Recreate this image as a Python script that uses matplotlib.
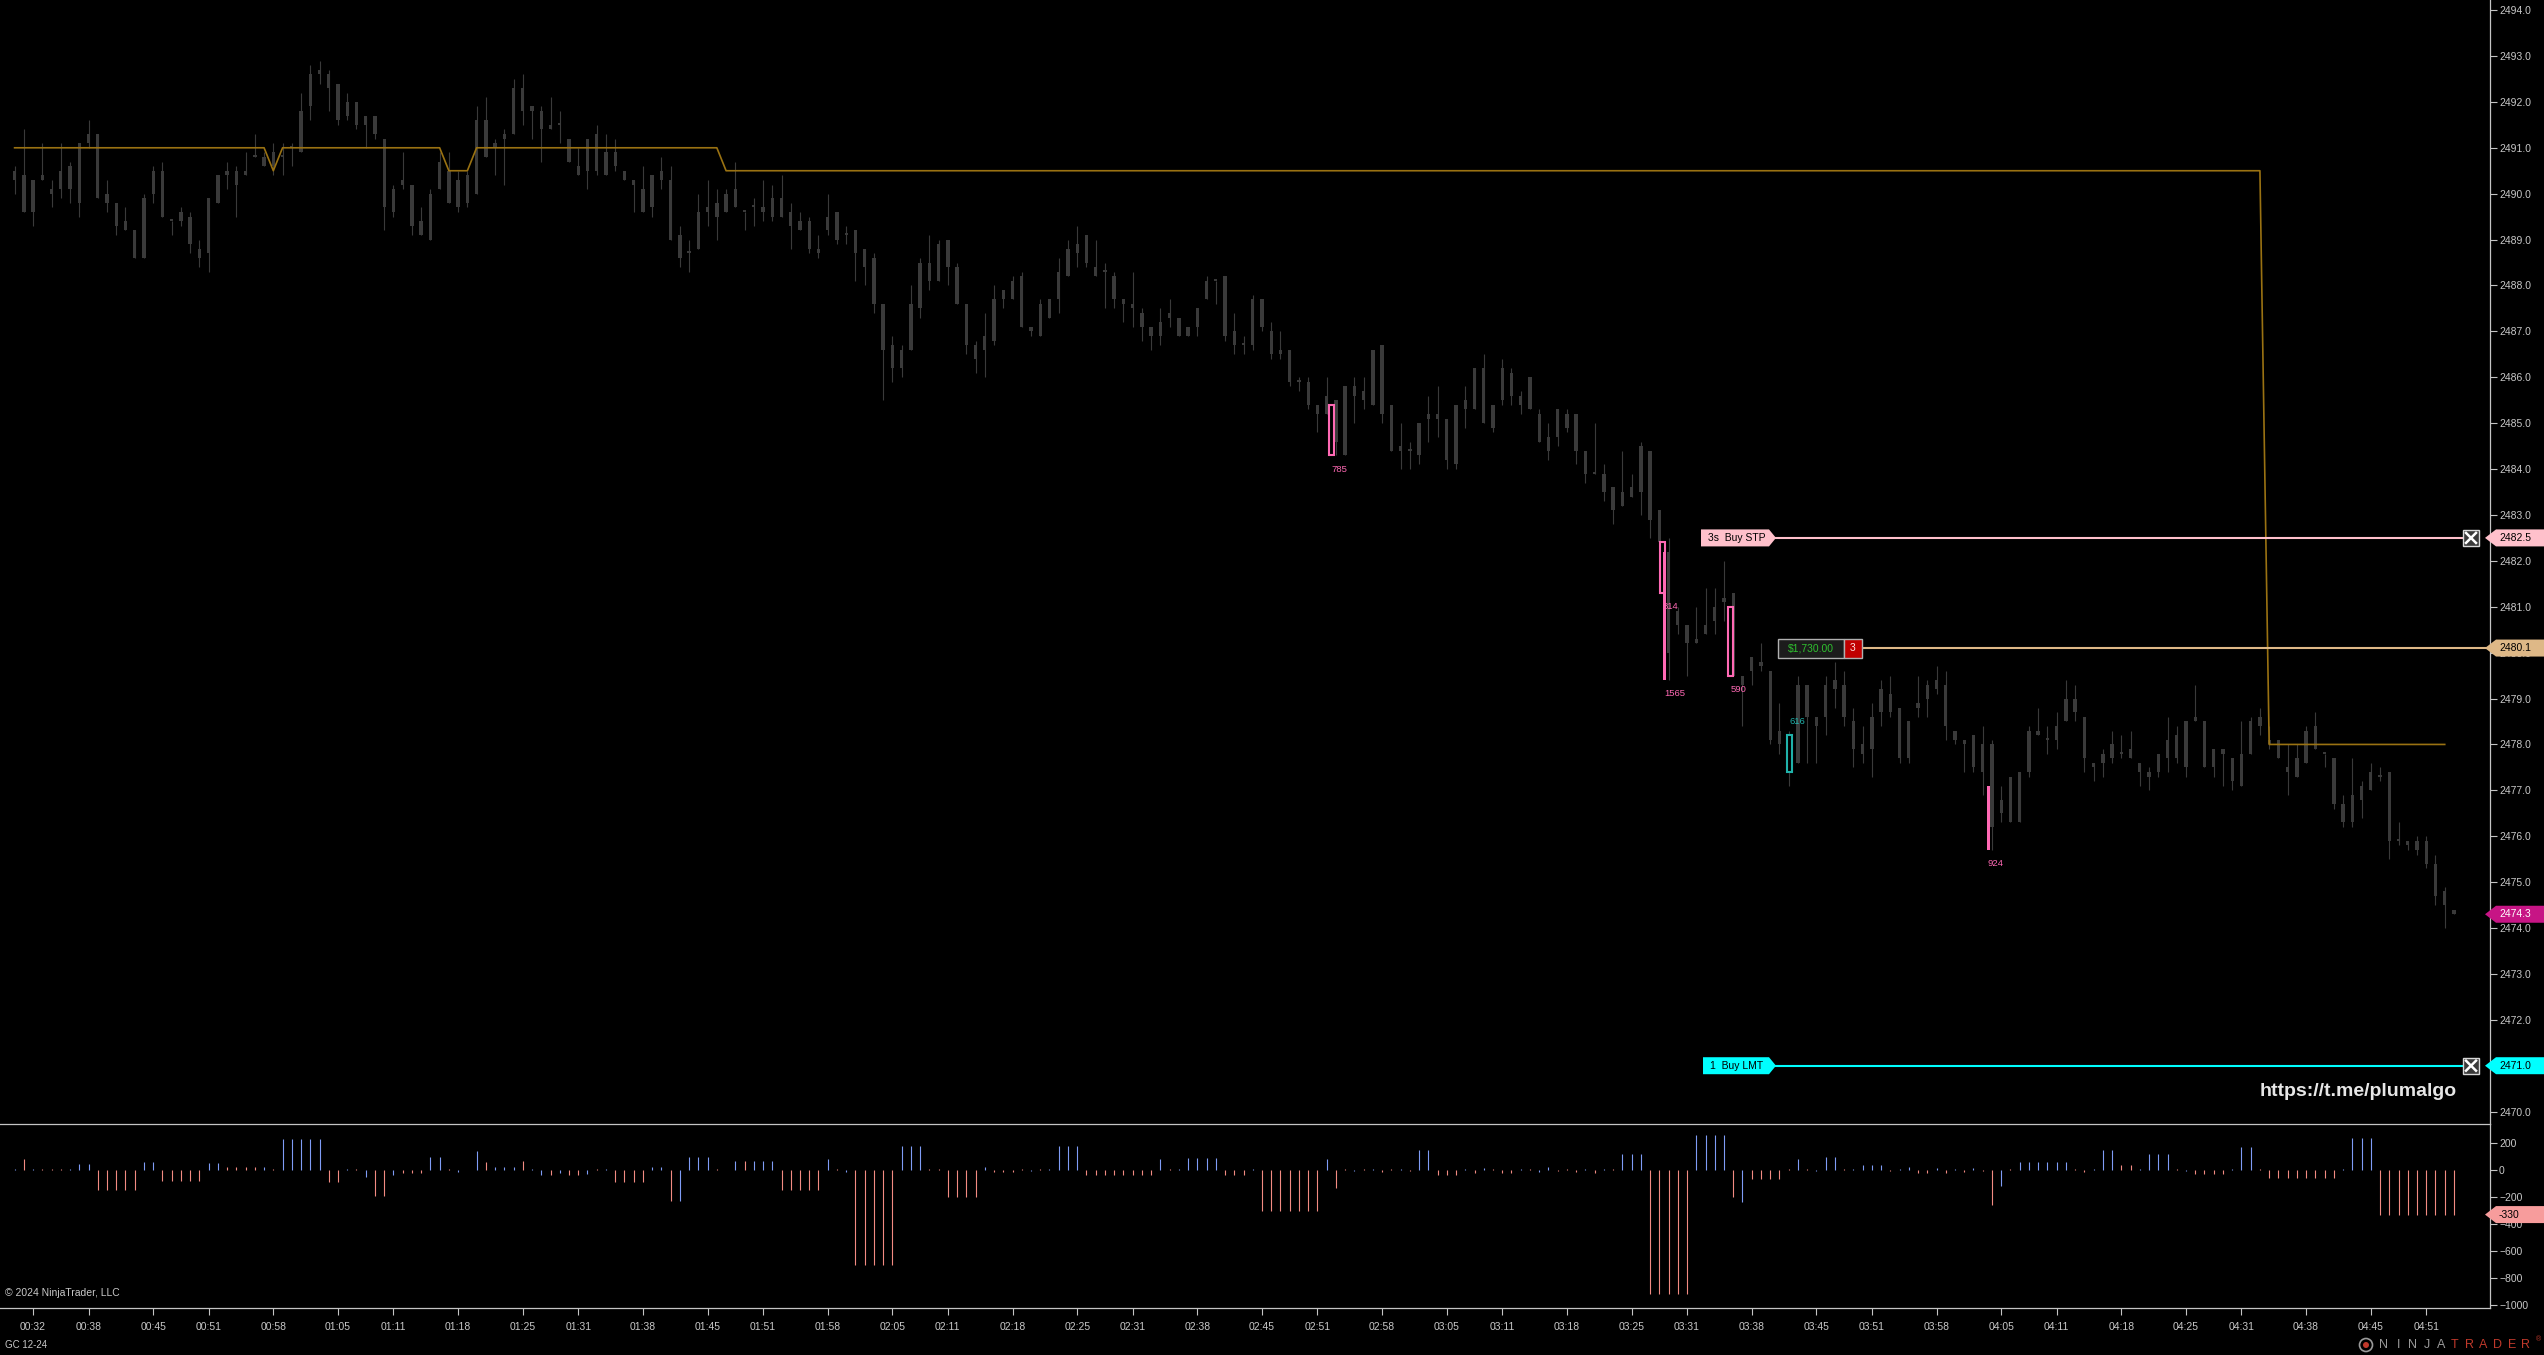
import matplotlib
matplotlib.use("Agg")
import matplotlib.pyplot as plt
import matplotlib.transforms as mtransforms
from matplotlib.patches import Polygon, Rectangle, Ellipse
from matplotlib.lines import Line2D
from matplotlib.ticker import FormatStrFormatter
import numpy as np

plt.rcParams['font.family'] = ['Liberation Sans', 'DejaVu Sans']

# GC 12-24, 1 minute bars, first bar at 00:30
first_bar = "00:30"
time_labels = ["00:32", "00:38", "00:45", "00:51", "00:58", "01:05", "01:11", "01:18",
               "01:25", "01:31", "01:38", "01:45", "01:51", "01:58", "02:05", "02:11",
               "02:18", "02:25", "02:31", "02:38", "02:45", "02:51", "02:58", "03:05",
               "03:11", "03:18", "03:25", "03:31", "03:38", "03:45", "03:51", "03:58",
               "04:05", "04:11", "04:18", "04:25", "04:31", "04:38", "04:45", "04:51"]

highs = [
    2490.6, 2491.4, 2490.3, 2491.1, 2490.3, 2491.1, 2490.7, 2491.1, 2491.6, 2491.3,
    2490.3, 2489.8, 2489.7, 2489.2, 2490.0, 2490.6, 2490.7, 2489.4, 2489.7, 2489.6,
    2489.0, 2489.9, 2490.4, 2490.7, 2490.6, 2490.9, 2491.3, 2490.9, 2491.1, 2491.1,
    2491.1, 2492.2, 2492.8, 2492.9, 2492.7, 2492.4, 2492.2, 2492.0, 2491.7, 2491.7,
    2491.2, 2490.2, 2490.9, 2490.2, 2489.7, 2490.1, 2490.9, 2490.9, 2490.5, 2490.5,
    2491.9, 2492.1, 2491.2, 2491.4, 2492.5, 2492.6, 2491.9, 2491.9, 2492.1, 2491.8,
    2491.2, 2491.0, 2491.2, 2491.5, 2491.3, 2491.2, 2490.5, 2490.3, 2490.6, 2490.4,
    2490.8, 2490.6, 2489.3, 2489.0, 2490.0, 2490.3, 2490.1, 2490.1, 2490.7, 2489.6,
    2489.9, 2490.3, 2490.2, 2490.4, 2489.8, 2489.6, 2489.5, 2489.1, 2490.0, 2489.6,
    2489.3, 2489.2, 2488.8, 2488.7, 2487.6, 2486.9, 2486.7, 2488.0, 2488.6, 2489.1,
    2489.0, 2489.0, 2488.5, 2487.6, 2486.8, 2487.4, 2488.0, 2487.9, 2488.2, 2488.3,
    2487.1, 2487.7, 2487.7, 2488.6, 2489.0, 2489.3, 2489.1, 2489.0, 2488.5, 2488.3,
    2487.7, 2488.3, 2487.5, 2487.1, 2487.5, 2487.7, 2487.3, 2487.1, 2487.5, 2488.2,
    2488.1, 2488.2, 2487.4, 2486.9, 2487.8, 2487.7, 2487.2, 2487.0, 2486.6, 2486.0,
    2486.0, 2485.4, 2486.0, 2485.5, 2485.8, 2486.0, 2486.0, 2486.6, 2486.7, 2485.4,
    2485.0, 2484.6, 2485.0, 2485.6, 2485.8, 2485.1, 2485.4, 2485.8, 2486.2, 2486.5,
    2485.4, 2486.4, 2486.2, 2485.7, 2486.0, 2485.3, 2485.0, 2485.3, 2485.3, 2485.2,
    2484.4, 2485.0, 2484.1, 2483.6, 2484.4, 2483.9, 2484.6, 2484.4, 2483.1, 2482.5,
    2481.0, 2480.6, 2481.0, 2481.4, 2481.4, 2482.0, 2481.3, 2479.5, 2479.9, 2480.2,
    2479.6, 2478.9, 2478.3, 2479.5, 2479.3, 2478.6, 2479.5, 2479.8, 2479.6, 2478.8,
    2478.4, 2478.9, 2479.4, 2479.5, 2478.8, 2478.5, 2479.5, 2479.4, 2479.7, 2479.6,
    2478.3, 2478.1, 2478.2, 2478.4, 2478.1, 2477.1, 2477.3, 2477.4, 2478.4, 2478.8,
    2478.4, 2478.7, 2479.4, 2479.3, 2478.6, 2477.6, 2477.9, 2478.3, 2478.2, 2478.3,
    2477.6, 2477.5, 2477.8, 2478.6, 2478.4, 2478.5, 2479.3, 2478.5, 2477.9, 2477.9,
    2477.7, 2478.5, 2478.6, 2478.8, 2478.4, 2478.1, 2478.0, 2478.0, 2478.4, 2478.7,
    2477.8, 2477.7, 2476.9, 2477.7, 2477.2, 2477.6, 2477.5, 2477.4, 2476.3, 2475.9,
    2476.0, 2476.0, 2475.6, 2474.9, 2474.4]

body_hi = [
    2490.5, 2490.4, 2490.3, 2490.4, 2490.1, 2490.5, 2490.6, 2491.1, 2491.3, 2491.3,
    2490.0, 2489.8, 2489.4, 2489.2, 2489.9, 2490.5, 2490.5, 2489.4, 2489.6, 2489.5,
    2488.8, 2489.9, 2490.4, 2490.5, 2490.5, 2490.5, 2490.8, 2490.8, 2490.9, 2490.8,
    2491.0, 2491.8, 2492.6, 2492.7, 2492.6, 2492.4, 2492.0, 2492.0, 2491.7, 2491.7,
    2491.2, 2490.1, 2490.3, 2490.2, 2489.4, 2490.0, 2490.7, 2490.5, 2490.3, 2490.4,
    2491.6, 2491.6, 2491.1, 2491.3, 2492.3, 2492.3, 2491.9, 2491.8, 2491.5, 2491.5,
    2491.2, 2490.6, 2491.2, 2491.3, 2490.9, 2490.9, 2490.5, 2490.3, 2490.1, 2490.4,
    2490.5, 2490.3, 2489.1, 2488.7, 2489.6, 2489.7, 2489.8, 2490.0, 2490.1, 2489.6,
    2489.7, 2489.7, 2489.9, 2489.9, 2489.6, 2489.4, 2489.4, 2488.8, 2489.5, 2489.6,
    2489.1, 2489.2, 2488.8, 2488.6, 2487.6, 2486.7, 2486.6, 2487.6, 2488.5, 2488.5,
    2488.9, 2489.0, 2488.4, 2487.6, 2486.7, 2486.9, 2487.7, 2487.9, 2488.1, 2488.2,
    2487.1, 2487.6, 2487.7, 2488.3, 2488.8, 2488.9, 2489.1, 2488.4, 2488.3, 2488.2,
    2487.7, 2487.6, 2487.4, 2487.1, 2487.2, 2487.4, 2487.3, 2487.1, 2487.5, 2488.1,
    2488.1, 2488.2, 2487.0, 2486.7, 2487.7, 2487.7, 2487.0, 2486.6, 2486.6, 2485.9,
    2485.9, 2485.4, 2485.6, 2485.5, 2485.8, 2485.8, 2485.7, 2486.6, 2486.7, 2485.4,
    2484.5, 2484.4, 2485.0, 2485.2, 2485.2, 2485.1, 2485.4, 2485.5, 2486.2, 2486.2,
    2485.4, 2486.2, 2486.1, 2485.6, 2486.0, 2485.2, 2484.7, 2485.3, 2485.2, 2485.2,
    2484.4, 2483.9, 2483.9, 2483.6, 2483.5, 2483.6, 2484.5, 2484.4, 2483.1, 2482.2,
    2480.9, 2480.6, 2480.3, 2480.6, 2481.0, 2481.2, 2481.3, 2479.5, 2479.9, 2479.8,
    2479.6, 2478.3, 2478.2, 2479.3, 2479.3, 2478.6, 2479.3, 2479.4, 2479.3, 2478.5,
    2478.0, 2478.6, 2479.2, 2479.1, 2478.8, 2478.5, 2478.9, 2479.3, 2479.4, 2479.3,
    2478.3, 2478.1, 2478.2, 2478.0, 2478.0, 2476.8, 2477.3, 2477.4, 2478.3, 2478.3,
    2478.1, 2478.4, 2479.0, 2479.0, 2478.6, 2477.6, 2477.8, 2478.0, 2477.8, 2477.9,
    2477.6, 2477.4, 2477.8, 2478.1, 2478.2, 2478.5, 2478.6, 2478.5, 2477.9, 2477.9,
    2477.7, 2477.8, 2478.5, 2478.6, 2478.1, 2478.1, 2477.5, 2477.7, 2478.3, 2478.4,
    2477.8, 2477.7, 2476.7, 2476.9, 2477.1, 2477.4, 2477.3, 2477.4, 2475.9, 2475.9,
    2475.9, 2475.9, 2475.4, 2474.8, 2474.4]

body_lo = [
    2490.3, 2489.6, 2489.6, 2490.3, 2490.0, 2490.1, 2490.1, 2489.8, 2491.1, 2489.9,
    2489.8, 2489.3, 2489.2, 2488.6, 2488.6, 2490.0, 2489.5, 2489.4, 2489.4, 2488.9,
    2488.6, 2488.7, 2489.8, 2490.4, 2490.2, 2490.4, 2490.8, 2490.6, 2490.6, 2490.8,
    2491.0, 2490.9, 2491.9, 2492.6, 2492.3, 2491.6, 2491.7, 2491.5, 2491.5, 2491.3,
    2489.7, 2489.6, 2490.2, 2489.3, 2489.1, 2489.0, 2490.1, 2489.8, 2489.7, 2489.8,
    2490.0, 2490.8, 2491.0, 2491.2, 2491.3, 2491.8, 2491.8, 2491.4, 2491.4, 2491.5,
    2490.7, 2490.4, 2490.5, 2490.5, 2490.4, 2490.6, 2490.3, 2490.2, 2489.6, 2489.7,
    2490.3, 2489.0, 2488.6, 2488.7, 2488.8, 2489.6, 2489.5, 2489.6, 2489.7, 2489.6,
    2489.7, 2489.6, 2489.5, 2489.5, 2489.3, 2489.2, 2488.8, 2488.7, 2489.2, 2489.0,
    2489.1, 2488.7, 2488.4, 2487.6, 2486.6, 2486.2, 2486.2, 2486.6, 2487.5, 2488.1,
    2488.1, 2488.4, 2487.6, 2486.7, 2486.4, 2486.6, 2486.8, 2487.7, 2487.7, 2487.1,
    2487.0, 2486.9, 2487.3, 2487.7, 2488.2, 2488.7, 2488.5, 2488.2, 2488.3, 2487.7,
    2487.6, 2487.5, 2487.1, 2486.9, 2486.9, 2487.3, 2486.9, 2486.9, 2487.1, 2487.7,
    2488.1, 2486.9, 2486.7, 2486.7, 2486.7, 2487.1, 2486.5, 2486.5, 2485.9, 2485.9,
    2485.4, 2485.2, 2485.2, 2484.6, 2484.3, 2485.6, 2485.5, 2485.4, 2485.2, 2484.4,
    2484.4, 2484.4, 2484.3, 2485.1, 2485.1, 2484.2, 2484.1, 2485.3, 2485.3, 2485.0,
    2484.9, 2485.5, 2485.6, 2485.4, 2485.3, 2484.6, 2484.4, 2484.7, 2484.9, 2484.4,
    2483.9, 2483.9, 2483.5, 2483.1, 2483.2, 2483.4, 2483.5, 2482.9, 2482.4, 2480.0,
    2480.6, 2480.2, 2480.2, 2480.4, 2480.7, 2481.1, 2479.5, 2479.3, 2479.6, 2479.7,
    2478.1, 2478.0, 2477.4, 2477.6, 2478.6, 2478.4, 2478.6, 2479.2, 2478.6, 2477.9,
    2477.8, 2477.9, 2478.7, 2478.7, 2477.7, 2477.7, 2478.8, 2479.0, 2479.2, 2478.4,
    2478.1, 2478.0, 2477.5, 2477.4, 2476.2, 2476.5, 2476.3, 2476.3, 2477.4, 2478.2,
    2478.1, 2478.1, 2478.5, 2478.7, 2477.7, 2477.5, 2477.6, 2477.7, 2477.8, 2477.7,
    2477.4, 2477.3, 2477.4, 2477.7, 2477.7, 2477.5, 2478.5, 2477.5, 2477.5, 2477.8,
    2477.2, 2477.1, 2477.8, 2478.4, 2478.0, 2477.7, 2477.4, 2477.3, 2477.6, 2477.9,
    2477.8, 2476.7, 2476.3, 2476.3, 2476.8, 2477.0, 2477.3, 2475.9, 2475.9, 2475.8,
    2475.7, 2475.4, 2474.7, 2474.5, 2474.3]

lows = [
    2490.0, 2489.6, 2489.3, 2490.3, 2489.7, 2489.9, 2489.8, 2489.5, 2491.0, 2489.9,
    2489.6, 2489.1, 2489.2, 2488.6, 2488.6, 2489.8, 2489.5, 2489.1, 2489.3, 2488.7,
    2488.4, 2488.3, 2489.8, 2490.1, 2489.5, 2490.4, 2490.8, 2490.6, 2490.4, 2490.4,
    2490.6, 2490.9, 2491.6, 2492.4, 2491.8, 2491.5, 2491.6, 2491.4, 2491.0, 2491.2,
    2489.2, 2489.5, 2490.1, 2489.1, 2489.1, 2489.0, 2490.1, 2489.8, 2489.6, 2489.7,
    2490.0, 2490.8, 2490.4, 2490.2, 2491.3, 2491.5, 2491.2, 2490.7, 2491.4, 2491.1,
    2490.7, 2490.4, 2490.1, 2490.4, 2490.4, 2490.5, 2490.3, 2489.6, 2489.6, 2489.5,
    2490.1, 2489.0, 2488.4, 2488.3, 2488.8, 2489.3, 2489.0, 2489.6, 2489.7, 2489.2,
    2489.3, 2489.4, 2489.4, 2489.5, 2488.8, 2489.2, 2488.7, 2488.6, 2489.1, 2488.9,
    2488.9, 2488.1, 2488.0, 2487.4, 2485.5, 2485.9, 2486.0, 2486.6, 2487.3, 2487.9,
    2488.1, 2488.0, 2487.6, 2486.5, 2486.1, 2486.0, 2486.7, 2487.5, 2487.7, 2487.1,
    2486.9, 2486.9, 2487.3, 2487.4, 2488.2, 2488.4, 2488.4, 2488.2, 2487.5, 2487.5,
    2487.2, 2487.1, 2486.8, 2486.6, 2486.7, 2487.1, 2486.9, 2486.9, 2486.9, 2487.7,
    2487.6, 2486.8, 2486.5, 2486.5, 2486.6, 2487.0, 2486.4, 2486.4, 2485.8, 2485.7,
    2485.3, 2484.8, 2485.2, 2484.3, 2484.3, 2485.0, 2485.3, 2485.4, 2485.0, 2484.4,
    2484.0, 2484.0, 2484.1, 2484.6, 2484.7, 2484.0, 2484.0, 2484.9, 2485.3, 2485.0,
    2484.8, 2485.4, 2485.4, 2485.2, 2485.3, 2484.6, 2484.2, 2484.5, 2484.8, 2484.1,
    2483.7, 2483.9, 2483.3, 2482.8, 2483.2, 2483.4, 2483.0, 2482.5, 2482.4, 2479.4,
    2480.4, 2479.5, 2480.2, 2480.4, 2480.4, 2480.7, 2479.5, 2478.4, 2479.3, 2479.6,
    2478.0, 2477.8, 2477.1, 2477.6, 2477.6, 2477.6, 2478.2, 2478.8, 2478.4, 2477.5,
    2477.6, 2477.3, 2478.4, 2478.6, 2477.6, 2477.6, 2478.6, 2478.6, 2479.1, 2478.1,
    2478.0, 2477.4, 2477.4, 2476.9, 2475.7, 2476.3, 2476.3, 2476.3, 2477.3, 2478.2,
    2477.8, 2477.9, 2478.5, 2478.5, 2477.4, 2477.2, 2477.3, 2477.6, 2477.7, 2477.7,
    2477.1, 2477.0, 2477.3, 2477.4, 2477.6, 2477.3, 2478.5, 2477.5, 2477.3, 2477.1,
    2477.0, 2477.1, 2477.8, 2478.2, 2477.9, 2477.7, 2476.9, 2477.3, 2477.6, 2477.9,
    2477.5, 2476.6, 2476.2, 2476.2, 2476.4, 2477.0, 2477.2, 2475.5, 2475.8, 2475.7,
    2475.6, 2475.3, 2474.5, 2474.0, 2474.3]

# orange stepped level: (first bar, level), ends at trail_last
trail_steps = [(0, 2491.0), (28, 2490.5), (29, 2491.0), (47, 2490.5),
               (50, 2491.0), (77, 2490.5), (244, 2478.0)]
trail_last = 263

# lower panel histogram
delta = [
    5, 80, 5, 5, 5, 5, 5, 45, 45, -150,
    -150, -150, -150, -150, 60, 60, -80, -80, -80, -80,
    -80, 55, 55, 25, 25, 25, 25, 25, 5, 230,
    230, 230, 230, 230, -85, -85, 5, 5, -50, -190,
    -190, -40, -25, -25, -25, 100, 100, 5, -15, 0,
    140, 60, 25, 25, 25, 67, 5, -40, -40, -25,
    -40, -40, -30, 5, 5, -87, -87, -87, -87, 25,
    25, -227, -227, 100, 100, 100, 5, 0, 67, 67,
    67, 67, 67, -148, -148, -148, -148, -148, 80, 10,
    -15, -704, -704, -704, -704, -704, 180, 180, 180, 10,
    10, -200, -200, -200, -200, 20, -15, -15, -15, 10,
    -10, 5, 10, 175, 175, 175, -40, -40, -40, -40,
    -40, -40, -40, -40, 80, 10, 5, 90, 90, 90,
    90, -40, -40, -40, 5, -300, -300, -300, -300, -300,
    -300, -300, 80, -130, 5, -10, 10, 5, -15, 5,
    10, -5, 150, 150, -40, -40, -40, 10, -20, 15,
    5, -25, -25, 10, 5, -15, 20, -10, 5, -15,
    5, -20, 10, 5, 120, 120, 120, -920, -920, -920,
    -920, -920, 260, 260, 260, 260, -200, -235, -70, -70,
    -70, -70, 5, 80, 10, -10, 100, 100, 5, 10,
    40, 40, 40, -10, 5, 20, -25, -25, 15, -20,
    10, -15, 15, -10, -260, -120, 10, 60, 60, 60,
    60, 60, 60, 10, -15, 5, 150, 150, 40, 40,
    10, 120, 120, 120, 5, -10, -30, -30, -30, -30,
    10, 170, 170, 5, -60, -60, -60, -60, -60, -60,
    -60, -60, 10, 240, 240, 240, -330, -330, -330, -330,
    -330, -330, -330, -330, -330]

delta_blue = [
    1, 0, 1, 0, 0, 0, 1, 1, 1, 0,
    0, 0, 0, 0, 1, 1, 0, 0, 0, 0,
    0, 1, 1, 0, 0, 0, 0, 1, 0, 1,
    1, 1, 1, 1, 0, 0, 1, 0, 1, 0,
    0, 1, 0, 0, 0, 1, 1, 0, 1, 1,
    1, 0, 1, 1, 1, 0, 1, 1, 0, 1,
    0, 0, 1, 0, 1, 0, 0, 0, 0, 1,
    1, 0, 1, 1, 1, 1, 0, 1, 1, 0,
    1, 1, 1, 0, 0, 0, 0, 0, 1, 0,
    1, 0, 0, 0, 0, 0, 1, 1, 1, 0,
    0, 0, 0, 0, 0, 1, 0, 0, 0, 0,
    1, 0, 1, 1, 1, 1, 0, 0, 0, 0,
    0, 0, 0, 0, 1, 0, 1, 1, 1, 1,
    1, 0, 0, 0, 1, 0, 0, 0, 0, 0,
    0, 0, 1, 0, 0, 1, 0, 1, 0, 0,
    1, 0, 1, 1, 0, 0, 0, 1, 0, 1,
    0, 0, 0, 1, 0, 1, 1, 0, 0, 0,
    1, 0, 1, 0, 1, 1, 1, 0, 0, 0,
    0, 0, 1, 1, 1, 1, 0, 1, 0, 0,
    0, 0, 0, 1, 0, 1, 1, 1, 0, 1,
    1, 1, 1, 0, 1, 1, 0, 0, 1, 0,
    1, 0, 1, 0, 0, 1, 0, 1, 1, 1,
    1, 1, 1, 0, 0, 1, 1, 1, 0, 0,
    1, 1, 1, 1, 0, 1, 0, 0, 0, 0,
    1, 1, 1, 0, 0, 0, 0, 0, 0, 0,
    0, 0, 1, 1, 1, 1, 0, 0, 0, 0,
    0, 0, 0, 0, 0]

# volume markers drawn next to bars
mark_x = [142.55, 178.37, 178.58, 185.74, 192.13, 213.6]
mark_top = [2485.4, 2482.4, 2482.2, 2481.0, 2478.2, 2477.1]
mark_bot = [2484.3, 2481.3, 2479.4, 2479.5, 2477.4, 2475.7]
mark_text = ["785", "814", "1565", "590", "616", "924"]
mark_kind = ["box", "box", "bar", "box", "buy", "bar"]

last_price = 2474.3
stop_price = 2482.5
limit_price = 2471.0
avg_price = 2480.1
pnl_text = "$1,730.00"
position_qty = "3"
delta_last = -330

# ---------------------------------------------------------------
W, H = 2544, 1355
BG = 'black'
CANDLE = '#3a3a3a'
AXC = '#c4c4c4'
TXT = '#c8c8c8'
PINK = '#ff69b4'
TEAL = '#20b2aa'
BLUE = '#7f9cf5'
SALMON = '#f28b82'
ORANGE = '#9a7212'


def fx(px):
    return px / W


def fy(py):
    return 1 - py / H


fig = plt.figure(figsize=(W / 100, H / 100), dpi=100, facecolor=BG)
ax = fig.add_axes([0, fy(1124), fx(2490), 1124 / H], facecolor=BG)
axd = fig.add_axes([0, fy(1308), fx(2490), 184 / H], facecolor=BG)

PY0, PY1 = 2469.73, 2494.22
DY0, DY1 = -1022, 341
XL = (-1.58, 267.9)
upp = (PY1 - PY0) / 1124      # price per pixel
dpp = (DY1 - DY0) / 184

x = np.arange(len(highs))

# candles
ax.vlines(x, lows, highs, color=CANDLE, lw=0.8, zorder=2)
bh = np.maximum(np.array(body_hi) - np.array(body_lo), 2 * upp)
ax.bar(x, bh, bottom=body_lo, width=0.36, color=CANDLE, zorder=2)

# orange level line
trail = np.full(len(highs), np.nan)
for start, level in trail_steps:
    trail[start:] = level
trail[trail_last + 1:] = np.nan
ax.plot(x, trail, color=ORANGE, lw=1.2, zorder=3)

# volume markers
for mx, top, bot, txt, kind in zip(mark_x, mark_top, mark_bot, mark_text, mark_kind):
    col = TEAL if kind == "buy" else PINK
    if kind == "bar":
        ax.add_patch(Rectangle((mx - 0.17, bot), 0.34, top - bot, fc=col, ec='none', zorder=6))
    else:
        ax.add_patch(Rectangle((mx - 0.28, bot), 0.56, top - bot, fc=BG, ec=col, lw=1.5, zorder=5))
    ty = top + 0.3 if kind == "buy" else bot - 0.3
    ax.text(mx - 0.05, ty, txt, color=col, fontsize=6.8, ha='left', va='center', zorder=7)

ax.set_xlim(*XL)
ax.set_ylim(PY0, PY1)
ax.yaxis.tick_right()
ax.set_yticks(np.arange(2470, 2495, 1.0))
ax.yaxis.set_major_formatter(FormatStrFormatter('%.1f'))
ax.tick_params(axis='y', color=AXC, labelcolor=TXT, length=5, width=0.8, pad=1.5, labelsize=7.5)
ax.tick_params(axis='x', bottom=False, labelbottom=False)
for s in ['top', 'left', 'bottom']:
    ax.spines[s].set_visible(False)
ax.spines['right'].set_color(AXC)
ax.spines['right'].set_linewidth(0.9)

# lower panel
axd.vlines(x, 0, delta, colors=[BLUE if b else SALMON for b in delta_blue], lw=0.8)
axd.set_xlim(*XL)
axd.set_ylim(DY0, DY1)
axd.yaxis.tick_right()
axd.set_yticks([200, 0, -200, -400, -600, -800, -1000])
axd.tick_params(axis='y', color=AXC, labelcolor=TXT, length=5, width=0.8, pad=1.5, labelsize=7.5)


def minutes(t):
    h, m = t.split(':')
    return int(h) * 60 + int(m)


axd.set_xticks([minutes(t) - minutes(first_bar) for t in time_labels])
axd.set_xticklabels(time_labels)
axd.tick_params(axis='x', color=AXC, labelcolor=TXT, length=5, width=0.8, pad=5, labelsize=7.5)
axd.spines['left'].set_visible(False)
for s in ['top', 'right', 'bottom']:
    axd.spines[s].set_color(AXC)
    axd.spines[s].set_linewidth(0.9)

# order / position widgets (x in figure pixels, y in price)
bl = mtransforms.blended_transform_factory(fig.transFigure, ax.transData)
bld = mtransforms.blended_transform_factory(fig.transFigure, axd.transData)


def hline(y, x0, x1, col):
    fig.add_artist(Line2D([fx(x0), fx(x1)], [y, y], transform=bl, color=col, lw=1.5, zorder=3))


def flag(y, x0, x1, text, fc):
    hh = 8.5 * upp
    pts = [(fx(x0), y - hh), (fx(x1 - 7), y - hh), (fx(x1), y), (fx(x1 - 7), y + hh), (fx(x0), y + hh)]
    fig.add_artist(Polygon(pts, closed=True, transform=bl, fc=fc, ec='none', zorder=4))
    fig.text(fx(x0 + 7), y, text, transform=bl, color='black', fontsize=7.5, ha='left', va='center', zorder=5)


def xbox(y, xc):
    hh = 8 * upp
    fig.add_artist(Rectangle((fx(xc - 8), y - hh), fx(16), 2 * hh, transform=bl,
                             fc='#3a3a3a', ec='#d8d8d8', lw=1.0, zorder=4))
    for a, b in [(-1, 1), (1, -1)]:
        fig.add_artist(Line2D([fx(xc - 5), fx(xc + 5)], [y + a * 5 * upp, y + b * 5 * upp],
                              transform=bl, color='white', lw=1.8, zorder=5))


def tag(trans, y, text, fc, tc, hh):
    pts = [(fx(2485), y), (fx(2496), y + hh), (fx(W), y + hh), (fx(W), y - hh), (fx(2496), y - hh)]
    fig.add_artist(Polygon(pts, closed=True, transform=trans, fc=fc, ec='none', zorder=6))
    fig.text(fx(2499), y, text, transform=trans, color=tc, fontsize=7.5, ha='left', va='center', zorder=7)


# stop order
hline(stop_price, 1776, 2463, '#ffc0cb')
flag(stop_price, 1701, 1776, "3s  Buy STP", '#ffc0cb')
xbox(stop_price, 2471)

# limit order
hline(limit_price, 1776, 2463, '#00ffff')
flag(limit_price, 1703, 1776, "1  Buy LMT", '#00ffff')
xbox(limit_price, 2471)

# position line
hline(avg_price, 1862, 2490, '#deb887')
hh = 9.5 * upp
fig.add_artist(Rectangle((fx(1778), avg_price - hh), fx(66), 2 * hh, transform=bl,
                         fc='#1c1c1c', ec='#b0b0b0', lw=1.0, zorder=4))
fig.text(fx(1811), avg_price, pnl_text, transform=bl, color='#2fc12f', fontsize=7.5,
         ha='center', va='center', zorder=5)
fig.add_artist(Rectangle((fx(1844), avg_price - hh), fx(18), 2 * hh, transform=bl,
                         fc='#c00000', ec='#b0b0b0', lw=1.0, zorder=4))
fig.text(fx(1853), avg_price, position_qty, transform=bl, color='#ffe0e0', fontsize=7.5,
         ha='center', va='center', zorder=5)

# right-axis tags
tag(bl, stop_price, f"{stop_price:.1f}", '#ffc0cb', 'black', 8.5 * upp)
tag(bl, avg_price, f"{avg_price:.1f}", '#deb887', 'black', 8.5 * upp)
tag(bl, last_price, f"{last_price:.1f}", '#c71585', 'white', 8.5 * upp)
tag(bl, limit_price, f"{limit_price:.1f}", '#00ffff', 'black', 8.5 * upp)
tag(bld, delta_last, f"{delta_last}", '#f79c9c', 'black', 8.5 * dpp)

# texts
fig.text(fx(2457), fy(1092), "https://t.me/plumalgo", color='#e6e6e6', fontsize=14,
         fontweight='bold', ha='right', va='center')
fig.text(fx(5), fy(1293), "\u00a9 2024 NinjaTrader, LLC", color=TXT, fontsize=7.5, ha='left', va='center')
fig.text(fx(5), fy(1345), "GC 12-24", color=TXT, fontsize=7, ha='left', va='center')

logo = "NINJATRADER"
for k, ch in enumerate(logo):
    fig.text(fx(2384 + k * 14.2), fy(1345), ch, color='#9a9a9a' if k < 5 else '#c0392b',
             fontsize=9, ha='center', va='center')
fig.text(fx(2538), fy(1340), "\u00ae", color='#c0392b', fontsize=5, ha='center', va='center')
fig.add_artist(Ellipse((fx(2366), fy(1345)), fx(13), 13 / H, fc='none', ec='#9a9a9a', lw=1.2))
fig.add_artist(Ellipse((fx(2366), fy(1345)), fx(6), 6 / H, fc='#c0392b', ec='none'))

fig.savefig('out.png', dpi=100, facecolor=BG)
